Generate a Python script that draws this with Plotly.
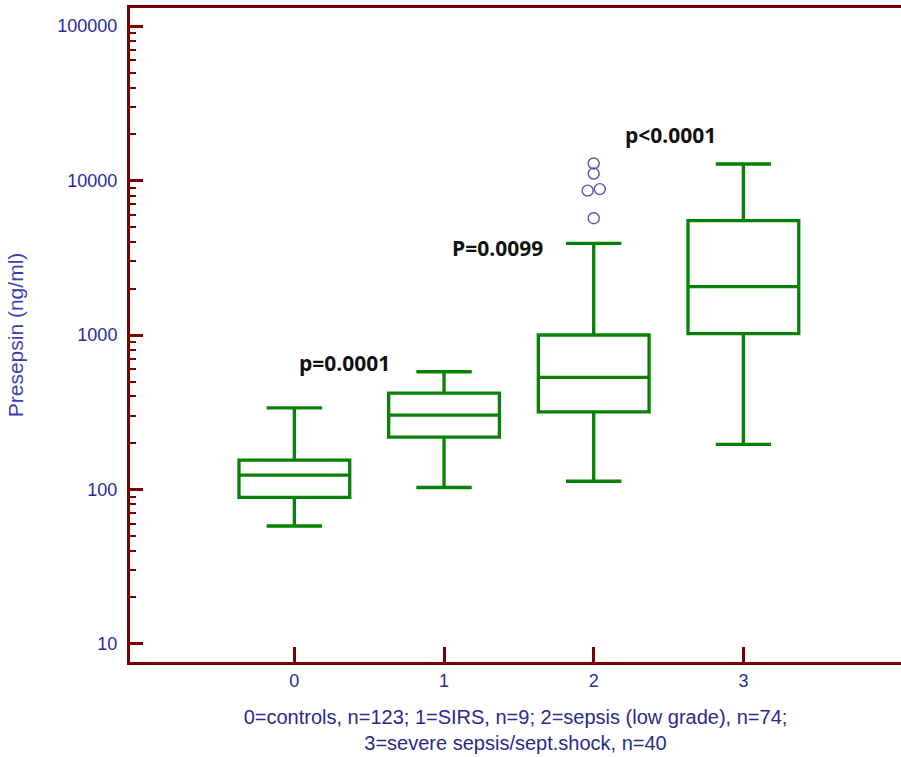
import math
import plotly.graph_objects as go

# Presepsin concentrations (ng/ml) by patient group
groups = [0, 1, 2, 3]
lower_whisker = [58, 103, 113, 196]
q1_vals = [89, 218, 318, 1020]
medians = [124, 303, 532, 2055]
q3_vals = [155, 420, 1000, 5500]
upper_whisker = [337, 578, 3920, 12800]
outlier_group = 2
outliers_single = [5700, 11100, 12900]
outliers_pair = [8600, 8800]

y_tick_vals = [10, 100, 1000, 10000, 100000]
y_tick_text = ["10", "100", "1000", "10000", "100000"]
minor_vals = [m * 10 ** e for e in range(1, 5) for m in range(2, 10)]

p_labels = ["p=0.0001", "P=0.0099", "p<0.0001"]
p_label_x = [0.332, 1.354, 2.51]
p_label_y = [659, 3660, 19700]

AXIS = "#7a0000"
GREEN = "#078207"
BLUE = "#2b2b9e"
POINT = "#5252b8"

fig = go.Figure()

# boxes from precomputed quartiles and whisker ends
fig.add_trace(go.Box(
    x=groups,
    q1=q1_vals,
    median=medians,
    q3=q3_vals,
    lowerfence=lower_whisker,
    upperfence=upper_whisker,
    boxpoints=False,
    width=0.74,
    whiskerwidth=0.5,
    fillcolor="rgba(0,0,0,0)",
    line=dict(color=GREEN, width=3.3),
    showlegend=False,
))


def outlier_trace(values, pos):
    # open circles only; the carrier box itself is invisible
    return go.Box(
        y=values,
        x0=outlier_group,
        boxpoints="all",
        jitter=0,
        pointpos=pos,
        width=0.74,
        fillcolor="rgba(0,0,0,0)",
        line=dict(color="rgba(0,0,0,0)", width=0),
        marker=dict(symbol="circle-open", size=11, color=POINT,
                    line=dict(width=1.4, color=POINT)),
        showlegend=False,
        hoverinfo="y",
    )


fig.add_trace(outlier_trace(outliers_single, 0))
fig.add_trace(outlier_trace(outliers_pair[:1], -0.11))
fig.add_trace(outlier_trace(outliers_pair[1:], 0.11))

for txt, xv, yv in zip(p_labels, p_label_x, p_label_y):
    fig.add_annotation(
        x=xv, y=math.log10(yv), xref="x", yref="y", text=txt,
        showarrow=False,
        font=dict(family="Open Sans", size=21, color="#111111", weight="bold"),
    )

fig.update_layout(
    width=901, height=757,
    margin=dict(l=130, r=0, t=8, b=95),
    paper_bgcolor="white",
    plot_bgcolor="white",
    font=dict(family="Liberation Sans, Arial", color=BLUE),
    boxmode="overlay",
)

fig.update_xaxes(
    range=[-1.098, 4.053],
    tickvals=groups,
    ticktext=[str(g) for g in groups],
    ticks="inside", ticklen=15, tickwidth=2.5, tickcolor=AXIS,
    showline=True, linecolor=AXIS, linewidth=3, mirror=True,
    showgrid=False, zeroline=False,
    tickfont=dict(size=18, color=BLUE),
    title=dict(
        text="0=controls, n=123; 1=SIRS, n=9; 2=sepsis (low grade), n=74;<br>3=severe sepsis/sept.shock, n=40",
        font=dict(size=20, color="#2a2a8c"),
        standoff=21,
    ),
)

fig.update_yaxes(
    type="log",
    range=[0.883, 5.117],
    tickvals=y_tick_vals,
    ticktext=y_tick_text,
    ticks="inside", ticklen=13, tickwidth=3, tickcolor=AXIS,
    minor=dict(tickvals=minor_vals, ticks="inside", ticklen=6,
               tickwidth=2.2, tickcolor=AXIS, showgrid=False),
    showline=True, linecolor=AXIS, linewidth=3,
    showgrid=False, zeroline=False,
    tickfont=dict(size=18, color=BLUE),
    ticklabelstandoff=6,
    title=dict(text="Presepsin (ng/ml)", font=dict(size=21, color="#3d3db8"),
               standoff=28),
)

fig.write_html("out.html")
